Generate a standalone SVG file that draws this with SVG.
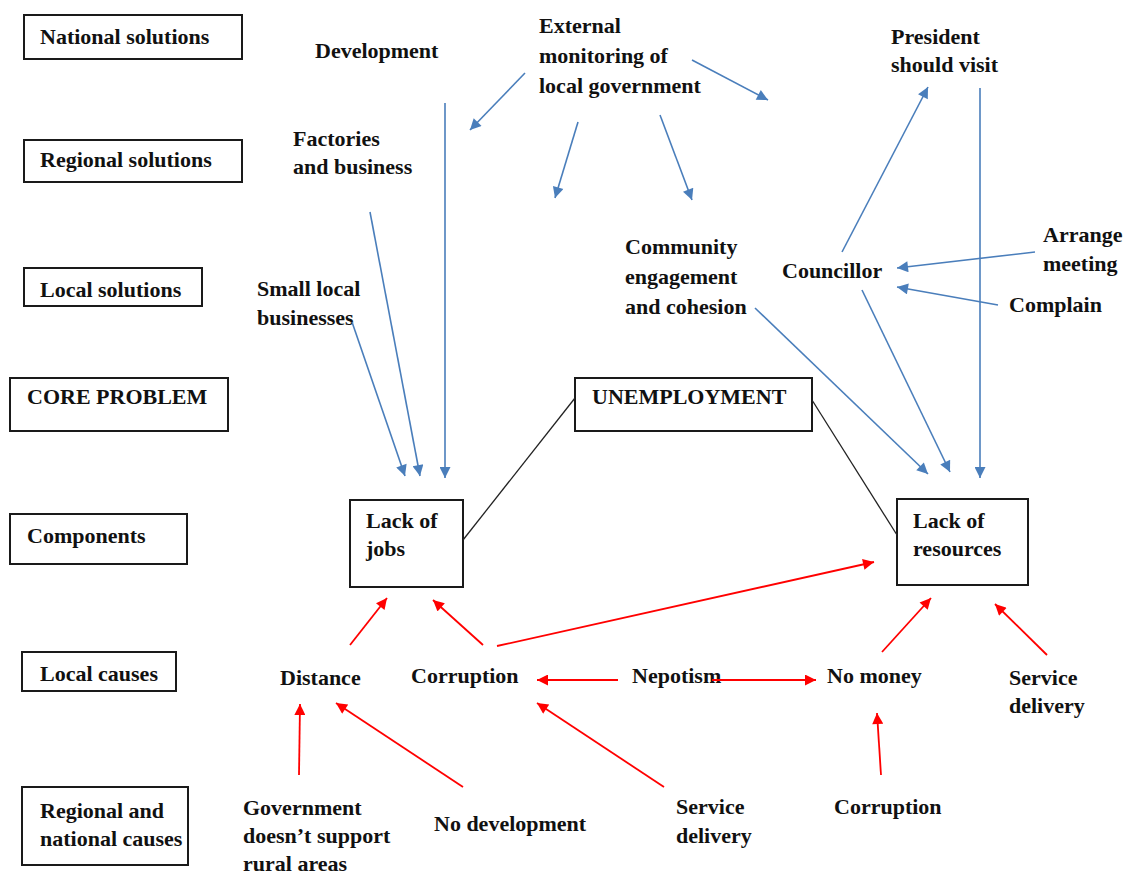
<svg xmlns="http://www.w3.org/2000/svg" width="1129" height="876" viewBox="0 0 1129 876">
  <style>
    text { font-family: "Liberation Serif", "Times New Roman", serif; font-weight: bold; font-size: 22px; fill: #111; }
    .box { fill: #fff; stroke: #1a1a1a; stroke-width: 2; }
    .blue { stroke: #4a7ebb; stroke-width: 1.6; fill: none; marker-end: url(#ab); }
    .red { stroke: #ff0000; stroke-width: 1.8; fill: none; marker-end: url(#ar); }
    .link { stroke: #222; stroke-width: 1.3; fill: none; }
  </style>
  <defs>
    <marker id="ab" viewBox="0 0 10 10" refX="10" refY="5" markerWidth="13" markerHeight="11" markerUnits="userSpaceOnUse" orient="auto">
      <path d="M0,0 L10,5 L0,10 z" fill="#4a7ebb"/>
    </marker>
    <marker id="ar" viewBox="0 0 10 10" refX="10" refY="5" markerWidth="13" markerHeight="11" markerUnits="userSpaceOnUse" orient="auto">
      <path d="M0,0 L10,5 L0,10 z" fill="#ff0000"/>
    </marker>
  </defs>
  <rect width="1129" height="876" fill="#fff"/>

  <!-- level labels -->
  <g id="lvl-national"><rect class="box" x="24" y="15" width="218" height="44"/><text x="40" y="44">National solutions</text></g>
  <g id="lvl-regional"><rect class="box" x="24" y="140" width="218" height="42"/><text x="40" y="167">Regional solutions</text></g>
  <g id="lvl-local"><rect class="box" x="24" y="268" width="178" height="38"/><text x="40" y="297">Local solutions</text></g>
  <g id="lvl-core"><rect class="box" x="10" y="378" width="218" height="53"/><text x="27" y="404">CORE PROBLEM</text></g>
  <g id="lvl-components"><rect class="box" x="10" y="514" width="177" height="50"/><text x="27" y="543">Components</text></g>
  <g id="lvl-localcauses"><rect class="box" x="22" y="652" width="154" height="39"/><text x="40" y="681">Local causes</text></g>
  <g id="lvl-natcauses"><rect class="box" x="22" y="787" width="166" height="78"/><text x="40" y="818">Regional and<tspan x="40" y="846">national causes</tspan></text></g>

  <!-- solutions -->
  <g id="development"><text x="315" y="58">Development</text></g>
  <g id="external"><text x="539" y="33">External<tspan x="539" y="63">monitoring of</tspan><tspan x="539" y="93">local government</tspan></text></g>
  <g id="president"><text x="891" y="44">President<tspan x="891" y="72">should visit</tspan></text></g>
  <g id="factories"><text x="293" y="146">Factories<tspan x="293" y="174">and business</tspan></text></g>
  <g id="community"><text x="625" y="254">Community<tspan x="625" y="284">engagement</tspan><tspan x="625" y="314">and cohesion</tspan></text></g>
  <g id="councillor"><text x="782" y="278">Councillor</text></g>
  <g id="arrange"><text x="1043" y="242">Arrange<tspan x="1043" y="271">meeting</tspan></text></g>
  <g id="complain"><text x="1009" y="312">Complain</text></g>
  <g id="small"><text x="257" y="296">Small local<tspan x="257" y="325">businesses</tspan></text></g>

  <!-- core and components -->
  <g id="unemployment"><rect class="box" x="575" y="378" width="237" height="53"/><text x="592" y="404">UNEMPLOYMENT</text></g>
  <g id="lackjobs"><rect class="box" x="350" y="500" width="113" height="87"/><text x="366" y="528">Lack of<tspan x="366" y="556">jobs</tspan></text></g>
  <g id="lackres"><rect class="box" x="897" y="499" width="131" height="86"/><text x="913" y="528">Lack of<tspan x="913" y="556">resources</tspan></text></g>

  <!-- causes -->
  <g id="distance"><text x="280" y="685">Distance</text></g>
  <g id="corruption1"><text x="411" y="683">Corruption</text></g>
  <g id="nepotism"><text x="632" y="683">Nepotism</text></g>
  <g id="nomoney"><text x="827" y="683">No money</text></g>
  <g id="service1"><text x="1009" y="685">Service<tspan x="1009" y="713">delivery</tspan></text></g>
  <g id="government"><text x="243" y="815">Government<tspan x="243" y="843">doesn’t support</tspan><tspan x="243" y="871">rural areas</tspan></text></g>
  <g id="nodev"><text x="434" y="831">No development</text></g>
  <g id="service2"><text x="676" y="814">Service<tspan x="676" y="843">delivery</tspan></text></g>
  <g id="corruption2"><text x="834" y="814">Corruption</text></g>

  <!-- connectors -->
  <g id="connectors">
    <line class="link" x1="463" y1="540" x2="575" y2="398"/>
    <line class="link" x1="812" y1="400" x2="897" y2="535"/>

    <line class="blue" x1="525" y1="73" x2="470" y2="130"/>
    <line class="blue" x1="578" y1="122" x2="555" y2="198"/>
    <line class="blue" x1="660" y1="115" x2="692" y2="200"/>
    <line class="blue" x1="692" y1="60" x2="768" y2="100"/>
    <line class="blue" x1="445" y1="103" x2="445" y2="478"/>
    <line class="blue" x1="370" y1="212" x2="420" y2="476"/>
    <line class="blue" x1="352" y1="322" x2="405" y2="476"/>
    <line class="blue" x1="842" y1="252" x2="928" y2="87"/>
    <line class="blue" x1="980" y1="88" x2="980" y2="478"/>
    <line class="blue" x1="1035" y1="252" x2="897" y2="268"/>
    <line class="blue" x1="998" y1="305" x2="897" y2="287"/>
    <line class="blue" x1="862" y1="290" x2="950" y2="472"/>
    <line class="blue" x1="755" y1="308" x2="928" y2="474"/>

    <line class="red" x1="350" y1="645" x2="387" y2="598"/>
    <line class="red" x1="483" y1="645" x2="433" y2="600"/>
    <line class="red" x1="497" y1="646" x2="874" y2="562"/>
    <line class="red" x1="618" y1="680" x2="537" y2="680"/>
    <line class="red" x1="712" y1="680" x2="816" y2="680"/>
    <line class="red" x1="882" y1="652" x2="931" y2="598"/>
    <line class="red" x1="1047" y1="655" x2="995" y2="604"/>
    <line class="red" x1="881" y1="775" x2="877" y2="713"/>
    <line class="red" x1="299" y1="775" x2="300" y2="704"/>
    <line class="red" x1="463" y1="787" x2="336" y2="703"/>
    <line class="red" x1="664" y1="787" x2="537" y2="703"/>
  </g>
</svg>
